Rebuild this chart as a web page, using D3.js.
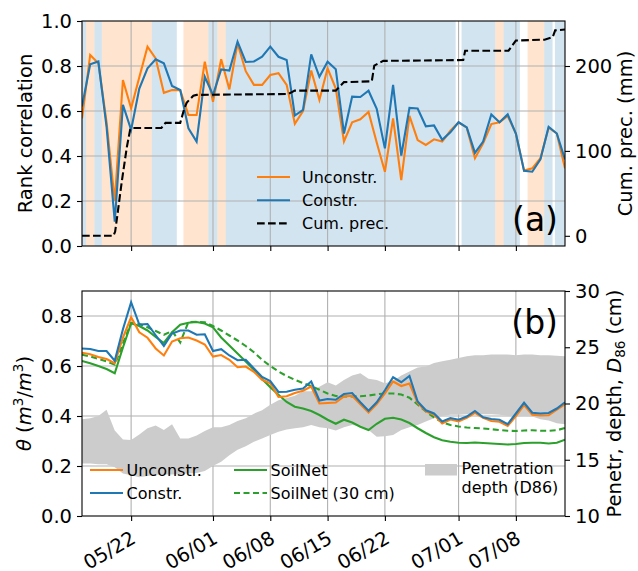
<!DOCTYPE html>
<html>
<head>
<meta charset="utf-8">
<script src="https://cdn.jsdelivr.net/npm/d3@7"></script>
<style>
  body { margin: 0; background: #fff; }
  text { font-family: "DejaVu Sans", sans-serif; fill: #000; }
</style>
</head>
<body>
<svg id="chart" width="638" height="571"></svg>
<script>
// ---- data (one value per day, starting 05/16) ----
const startDate = "2019-05-16";
const endDate = "2019-07-14";
const tickDates = ["2019-05-22", "2019-06-01", "2019-06-08", "2019-06-15", "2019-06-22", "2019-07-01", "2019-07-08"];

const rankUnconstr = [0.567,0.849,0.812,0.55,0.20,0.738,0.612,0.75,0.886,0.834,
  0.681,0.693,0.693,0.582,0.582,0.819,0.641,0.83,0.696,0.90,
  0.777,0.716,0.716,0.76,0.768,0.716,0.543,0.60,0.78,0.649,
  0.79,0.70,0.465,0.55,0.563,0.596,0.46,0.33,0.567,0.293,
  0.578,0.471,0.449,0.474,0.464,0.512,0.55,0.526,0.39,0.456,
  0.542,0.55,0.578,0.5,0.335,0.345,0.39,0.526,0.5,0.345];
const rankConstr = [0.62,0.808,0.82,0.53,0.108,0.627,0.516,0.70,0.79,0.83,
  0.812,0.711,0.693,0.523,0.464,0.752,0.671,0.785,0.78,0.908,
  0.818,0.82,0.841,0.886,0.841,0.827,0.58,0.605,0.852,0.752,
  0.819,0.786,0.5,0.664,0.662,0.69,0.61,0.434,0.716,0.402,
  0.614,0.611,0.532,0.536,0.472,0.505,0.55,0.527,0.414,0.464,
  0.585,0.55,0.585,0.5,0.334,0.33,0.385,0.53,0.5,0.385];

// cumulative precipitation, (day offset, mm)
const cumPrecDay = [0,3.84,4.05,4.33,4.86,5.47,5.88,6.08,9.7,10.2,12.0,12.5,12.8,13.6,14,25.2,26,31,32,35.4,35.7,36.8,46.57,46.8,52.1,53,56.5,57.5,57.8,59];
const cumPrecMm  = [0,0,5,25,64,104,125,127,127,133,133,150,157,165,166,167,171,171,181,182,200.5,206,207,218,218,230,231,234,242,243];

// shaded periods: kind, from day, to day
const spanKind = ["b","o","b","o","b","o","b","o","b","b","o","b","o","b","b"];
const spanFrom = [0,0.5,1.52,2.42,8.53,12.39,15.44,16.54,17.56,46.37,50.48,51.5,54.43,56.46,57.77];
const spanTo   = [0.5,1.52,2.42,8.53,11.58,15.44,16.54,17.56,45.64,50.48,51.5,53.49,56.46,57.48,59];

const thetaUnconstr = [0.653,0.647,0.636,0.628,0.611,0.714,0.795,0.735,0.713,0.67,
  0.642,0.698,0.711,0.714,0.702,0.686,0.638,0.644,0.625,0.595,
  0.598,0.577,0.545,0.531,0.476,0.479,0.492,0.501,0.518,0.45,
  0.452,0.454,0.478,0.481,0.447,0.414,0.448,0.49,0.538,0.52,
  0.53,0.452,0.419,0.405,0.37,0.386,0.378,0.393,0.413,0.393,
  0.38,0.377,0.36,0.40,0.444,0.405,0.402,0.403,0.425,0.447];
const thetaConstr = [0.67,0.668,0.66,0.66,0.621,0.747,0.855,0.766,0.768,0.723,
  0.68,0.73,0.742,0.742,0.725,0.727,0.66,0.667,0.642,0.623,
  0.625,0.59,0.556,0.54,0.496,0.497,0.505,0.51,0.538,0.462,
  0.468,0.465,0.488,0.492,0.455,0.421,0.455,0.503,0.555,0.535,
  0.56,0.458,0.423,0.41,0.378,0.392,0.385,0.398,0.42,0.395,
  0.388,0.385,0.367,0.41,0.453,0.413,0.41,0.412,0.43,0.455];
const soilNet = [0.62,0.611,0.6,0.588,0.571,0.674,0.771,0.76,0.742,0.716,
  0.692,0.735,0.765,0.773,0.776,0.77,0.755,0.714,0.682,0.65,
  0.618,0.585,0.548,0.515,0.485,0.456,0.437,0.43,0.42,0.404,
  0.385,0.369,0.385,0.374,0.357,0.344,0.369,0.389,0.393,0.386,
  0.372,0.351,0.332,0.315,0.303,0.297,0.293,0.292,0.294,0.292,
  0.29,0.288,0.286,0.288,0.292,0.293,0.293,0.29,0.293,0.305];
const soilNet30 = [0.645,0.638,0.628,0.618,0.605,0.69,0.772,0.768,0.755,0.74,
  0.725,0.74,0.694,0.776,0.777,0.775,0.76,0.742,0.722,0.702,
  0.68,0.655,0.625,0.6,0.578,0.56,0.545,0.532,0.52,0.505,
  0.49,0.48,0.478,0.478,0.479,0.482,0.487,0.49,0.49,0.486,
  0.473,0.446,0.418,0.395,0.375,0.364,0.358,0.354,0.352,0.35,
  0.347,0.344,0.341,0.34,0.342,0.343,0.341,0.341,0.343,0.352];
// penetration depth band (cm)
const d86Upper = [18.6,18.7,18.9,19.45,17.6,16.8,16.75,17.25,17.8,18.05,
  17.65,18.15,16.9,16.9,17.15,17.55,17.9,17.9,18.1,18.45,
  18.7,19.1,19.4,19.9,20.3,20.5,20.7,21.1,21.1,21.5,
  21.9,21.6,22.1,22.5,22.7,22.2,22.1,21.8,22.0,22.5,
  22.85,23.2,23.3,23.6,23.75,23.9,24.05,24.2,24.3,24.3,
  24.35,24.35,24.35,24.3,24.35,24.35,24.3,24.3,24.25,24.2];
const d86Lower = [14.67,14.67,14.6,14.6,14.33,13.78,13.62,13.45,13.55,13.67,
  13.7,13.7,13.73,13.78,13.82,14.0,14.45,14.82,15.4,15.9,
  16.2,16.6,16.9,17.2,17.5,17.7,17.8,17.9,18.1,17.9,
  17.8,17.6,17.9,18.1,18.0,17.65,17.05,17.1,17.2,17.65,
  17.9,18.1,18.4,18.7,18.9,19.0,19.0,19.05,19.05,19.05,
  19.05,19.0,18.9,18.85,18.9,18.85,18.6,18.5,18.25,18.15];

// ---- setup ----
const C0 = "#1f77b4", C1 = "#ff7f0e", C2 = "#2ca02c";
const svg = d3.select("#chart");
const t0 = new Date(startDate + "T00:00:00Z");
const dayDate = d => new Date(t0.getTime() + d * 864e5);
const days = d3.range(rankUnconstr.length);

const left = 82, right = 565;
const x = d3.scaleUtc().domain([t0, new Date(endDate + "T00:00:00Z")]).range([left, right]);

const topA = 21, botA = 246, topB = 291, botB = 516;
const yA = d3.scaleLinear().domain([0, 1]).range([botA, topA]);
const yA2 = d3.scaleLinear().domain([-12, 253]).range([botA, topA]);
const yB = d3.scaleLinear().domain([0, 0.9]).range([botB, topB]);
const yB2 = d3.scaleLinear().domain([10, 30]).range([botB, topB]);

const ticks = tickDates.map(s => new Date(s + "T00:00:00Z"));

function clip(id, y0, y1) {
  svg.append("clipPath").attr("id", id).append("rect")
    .attr("x", left).attr("y", y0).attr("width", right - left).attr("height", y1 - y0);
}
clip("clipA", topA, botA);
clip("clipB", topB, botB);

function grid(g, y, vals, y0, y1) {
  g.selectAll(".gx").data(ticks).join("line")
    .attr("x1", d => x(d)).attr("x2", d => x(d)).attr("y1", y0).attr("y2", y1)
    .attr("stroke", "#b0b0b0").attr("stroke-width", 1.1);
  g.selectAll(".gy").data(vals).join("line")
    .attr("x1", left).attr("x2", right).attr("y1", d => y(d)).attr("y2", d => y(d))
    .attr("stroke", "#b0b0b0").attr("stroke-width", 1.1);
}

function styleAxis(g) {
  g.select(".domain").remove();
  g.selectAll(".tick line").attr("stroke", "#000").attr("stroke-width", 1.1);
  g.selectAll(".tick text").attr("font-size", 19.5).attr("font-family", "DejaVu Sans").attr("fill", "#000");
}

// ---- panel (a) ----
const pa = svg.append("g");
const spanG = pa.append("g").attr("clip-path", "url(#clipA)");
spanG.selectAll("rect").data(spanKind).join("rect")
  .attr("x", (d, i) => x(dayDate(spanFrom[i])))
  .attr("width", (d, i) => x(dayDate(spanTo[i])) - x(dayDate(spanFrom[i])))
  .attr("y", topA).attr("height", botA - topA)
  .attr("fill", d => d === "o" ? C1 : C0).attr("fill-opacity", 0.2);

grid(pa.append("g"), yA, [0.2, 0.4, 0.6, 0.8], topA, botA);

const lineA = d3.line().x(d => x(dayDate(d[0]))).y(d => yA(d[1]));
const plotA = pa.append("g").attr("clip-path", "url(#clipA)");
plotA.append("path").datum(days.map(d => [d, rankUnconstr[d]]))
  .attr("d", lineA).attr("fill", "none").attr("stroke", C1).attr("stroke-width", 2.1);
plotA.append("path").datum(days.map(d => [d, rankConstr[d]]))
  .attr("d", lineA).attr("fill", "none").attr("stroke", C0).attr("stroke-width", 2.1);
const linePrec = d3.line().x((d, i) => x(dayDate(cumPrecDay[i]))).y(d => yA2(d));
plotA.append("path").datum(cumPrecMm)
  .attr("d", linePrec).attr("fill", "none").attr("stroke", "#000")
  .attr("stroke-width", 2.1).attr("stroke-dasharray", "7.7,3.3");

pa.append("g").attr("transform", `translate(${left},0)`)
  .call(d3.axisLeft(yA).tickValues([0, 0.2, 0.4, 0.6, 0.8, 1.0]).tickFormat(d3.format(".1f")).tickSize(5).tickPadding(5))
  .call(styleAxis);
pa.append("g").attr("transform", `translate(${right},0)`)
  .call(d3.axisRight(yA2).tickValues([0, 100, 200]).tickSize(5).tickPadding(5))
  .call(styleAxis);
pa.append("g").attr("transform", `translate(0,${botA})`)
  .call(d3.axisBottom(x).tickValues(ticks).tickFormat("").tickSize(5))
  .call(styleAxis);
pa.append("rect").attr("x", left).attr("y", topA).attr("width", right - left).attr("height", botA - topA)
  .attr("fill", "none").attr("stroke", "#000").attr("stroke-width", 1.1);

pa.append("text").attr("transform", `translate(32,${(topA + botA) / 2}) rotate(-90)`)
  .attr("text-anchor", "middle").attr("font-size", 19.5).text("Rank correlation");
pa.append("text").attr("transform", `translate(632,${(topA + botA) / 2}) rotate(-90)`)
  .attr("text-anchor", "middle").attr("font-size", 19.5).text("Cum. prec. (mm)");
pa.append("text").attr("x", 558).attr("y", 231).attr("text-anchor", "end")
  .attr("font-size", 33).text("(a)");

// legend (a)
const legA = [["Unconstr.", C1, null], ["Constr.", C0, null], ["Cum. prec.", "#000", "7.7,3.3"]];
legA.forEach((d, i) => {
  const yy = 177 + i * 23.2;
  pa.append("line").attr("x1", 257).attr("x2", 290).attr("y1", yy).attr("y2", yy)
    .attr("stroke", d[1]).attr("stroke-width", 2.1).attr("stroke-dasharray", d[2]);
  pa.append("text").attr("x", 302).attr("y", yy + 5.8).attr("font-size", 16).text(d[0]);
});

// ---- panel (b) ----
const pb = svg.append("g");
grid(pb.append("g"), yB, [0.2, 0.4, 0.6, 0.8], topB, botB);

const plotB = pb.append("g").attr("clip-path", "url(#clipB)");
const band = d3.area().x(d => x(dayDate(d))).y0(d => yB2(d86Lower[d])).y1(d => yB2(d86Upper[d]));
plotB.append("path").datum(days).attr("d", band).attr("fill", "#cccccc");

const lineB = d3.line().x(d => x(dayDate(d[0]))).y(d => yB(d[1]));
const series = [
  [soilNet30, C2, "6,3.5"],
  [soilNet, C2, null],
  [thetaUnconstr, C1, null],
  [thetaConstr, C0, null]
];
series.forEach(s => {
  plotB.append("path").datum(days.map(d => [d, s[0][d]]))
    .attr("d", lineB).attr("fill", "none").attr("stroke", s[1])
    .attr("stroke-width", 2.1).attr("stroke-dasharray", s[2]);
});

pb.append("g").attr("transform", `translate(${left},0)`)
  .call(d3.axisLeft(yB).tickValues([0, 0.2, 0.4, 0.6, 0.8]).tickFormat(d3.format(".1f")).tickSize(5).tickPadding(5))
  .call(styleAxis);
pb.append("g").attr("transform", `translate(${right},0)`)
  .call(d3.axisRight(yB2).tickValues([10, 15, 20, 25, 30]).tickSize(5).tickPadding(5))
  .call(styleAxis);
const xAxisB = pb.append("g").attr("transform", `translate(0,${botB})`)
  .call(d3.axisBottom(x).tickValues(ticks).tickFormat(d3.utcFormat("%m/%d")).tickSize(5).tickPadding(5))
  .call(styleAxis);
xAxisB.selectAll(".tick text")
  .attr("text-anchor", "end").attr("dy", 0).attr("y", 0)
  .attr("transform", "translate(-2,13) rotate(-30) translate(0,15)");
pb.append("rect").attr("x", left).attr("y", topB).attr("width", right - left).attr("height", botB - topB)
  .attr("fill", "none").attr("stroke", "#000").attr("stroke-width", 1.1);

const thLab = pb.append("text").attr("transform", `translate(31,${(topB + botB) / 2}) rotate(-90)`)
  .attr("text-anchor", "middle").attr("font-size", 19.5);
thLab.append("tspan").attr("font-style", "italic").text("θ");
thLab.append("tspan").text(" (");
thLab.append("tspan").attr("font-style", "italic").text("m");
thLab.append("tspan").attr("font-size", 13.5).attr("dy", -8).text("3");
thLab.append("tspan").attr("dy", 8).text("/");
thLab.append("tspan").attr("font-style", "italic").text("m");
thLab.append("tspan").attr("font-size", 13.5).attr("dy", -8).text("3");
thLab.append("tspan").attr("dy", 8).text(")");

const dLab = pb.append("text").attr("transform", `translate(621,${(topB + botB) / 2}) rotate(-90)`)
  .attr("text-anchor", "middle").attr("font-size", 19.5);
dLab.append("tspan").text("Penetr, depth, ");
dLab.append("tspan").attr("font-style", "italic").text("D");
dLab.append("tspan").attr("font-size", 13.5).attr("dy", 4).text("86");
dLab.append("tspan").attr("dy", -4).text(" (cm)");

pb.append("text").attr("x", 558).attr("y", 334).attr("text-anchor", "end")
  .attr("font-size", 33).text("(b)");

// legend (b)
const legB = [
  ["Unconstr.", C1, null, 90, 470], ["Constr.", C0, null, 90, 493],
  ["SoilNet", C2, null, 234, 470], ["SoilNet (30 cm)", C2, "6,3.5", 234, 493]
];
legB.forEach(d => {
  pb.append("line").attr("x1", d[3]).attr("x2", d[3] + 33).attr("y1", d[4]).attr("y2", d[4])
    .attr("stroke", d[1]).attr("stroke-width", 2.1).attr("stroke-dasharray", d[2]);
  pb.append("text").attr("x", d[3] + 36.5).attr("y", d[4] + 5.8).attr("font-size", 16).text(d[0]);
});
pb.append("rect").attr("x", 425).attr("y", 464).attr("width", 32).attr("height", 11.5).attr("fill", "#cccccc");
const penTxt = pb.append("text").attr("font-size", 16);
penTxt.append("tspan").attr("x", 461.5).attr("y", 474).text("Penetration");
penTxt.append("tspan").attr("x", 461.5).attr("y", 493).text("depth (D86)");
</script>
</body>
</html>
